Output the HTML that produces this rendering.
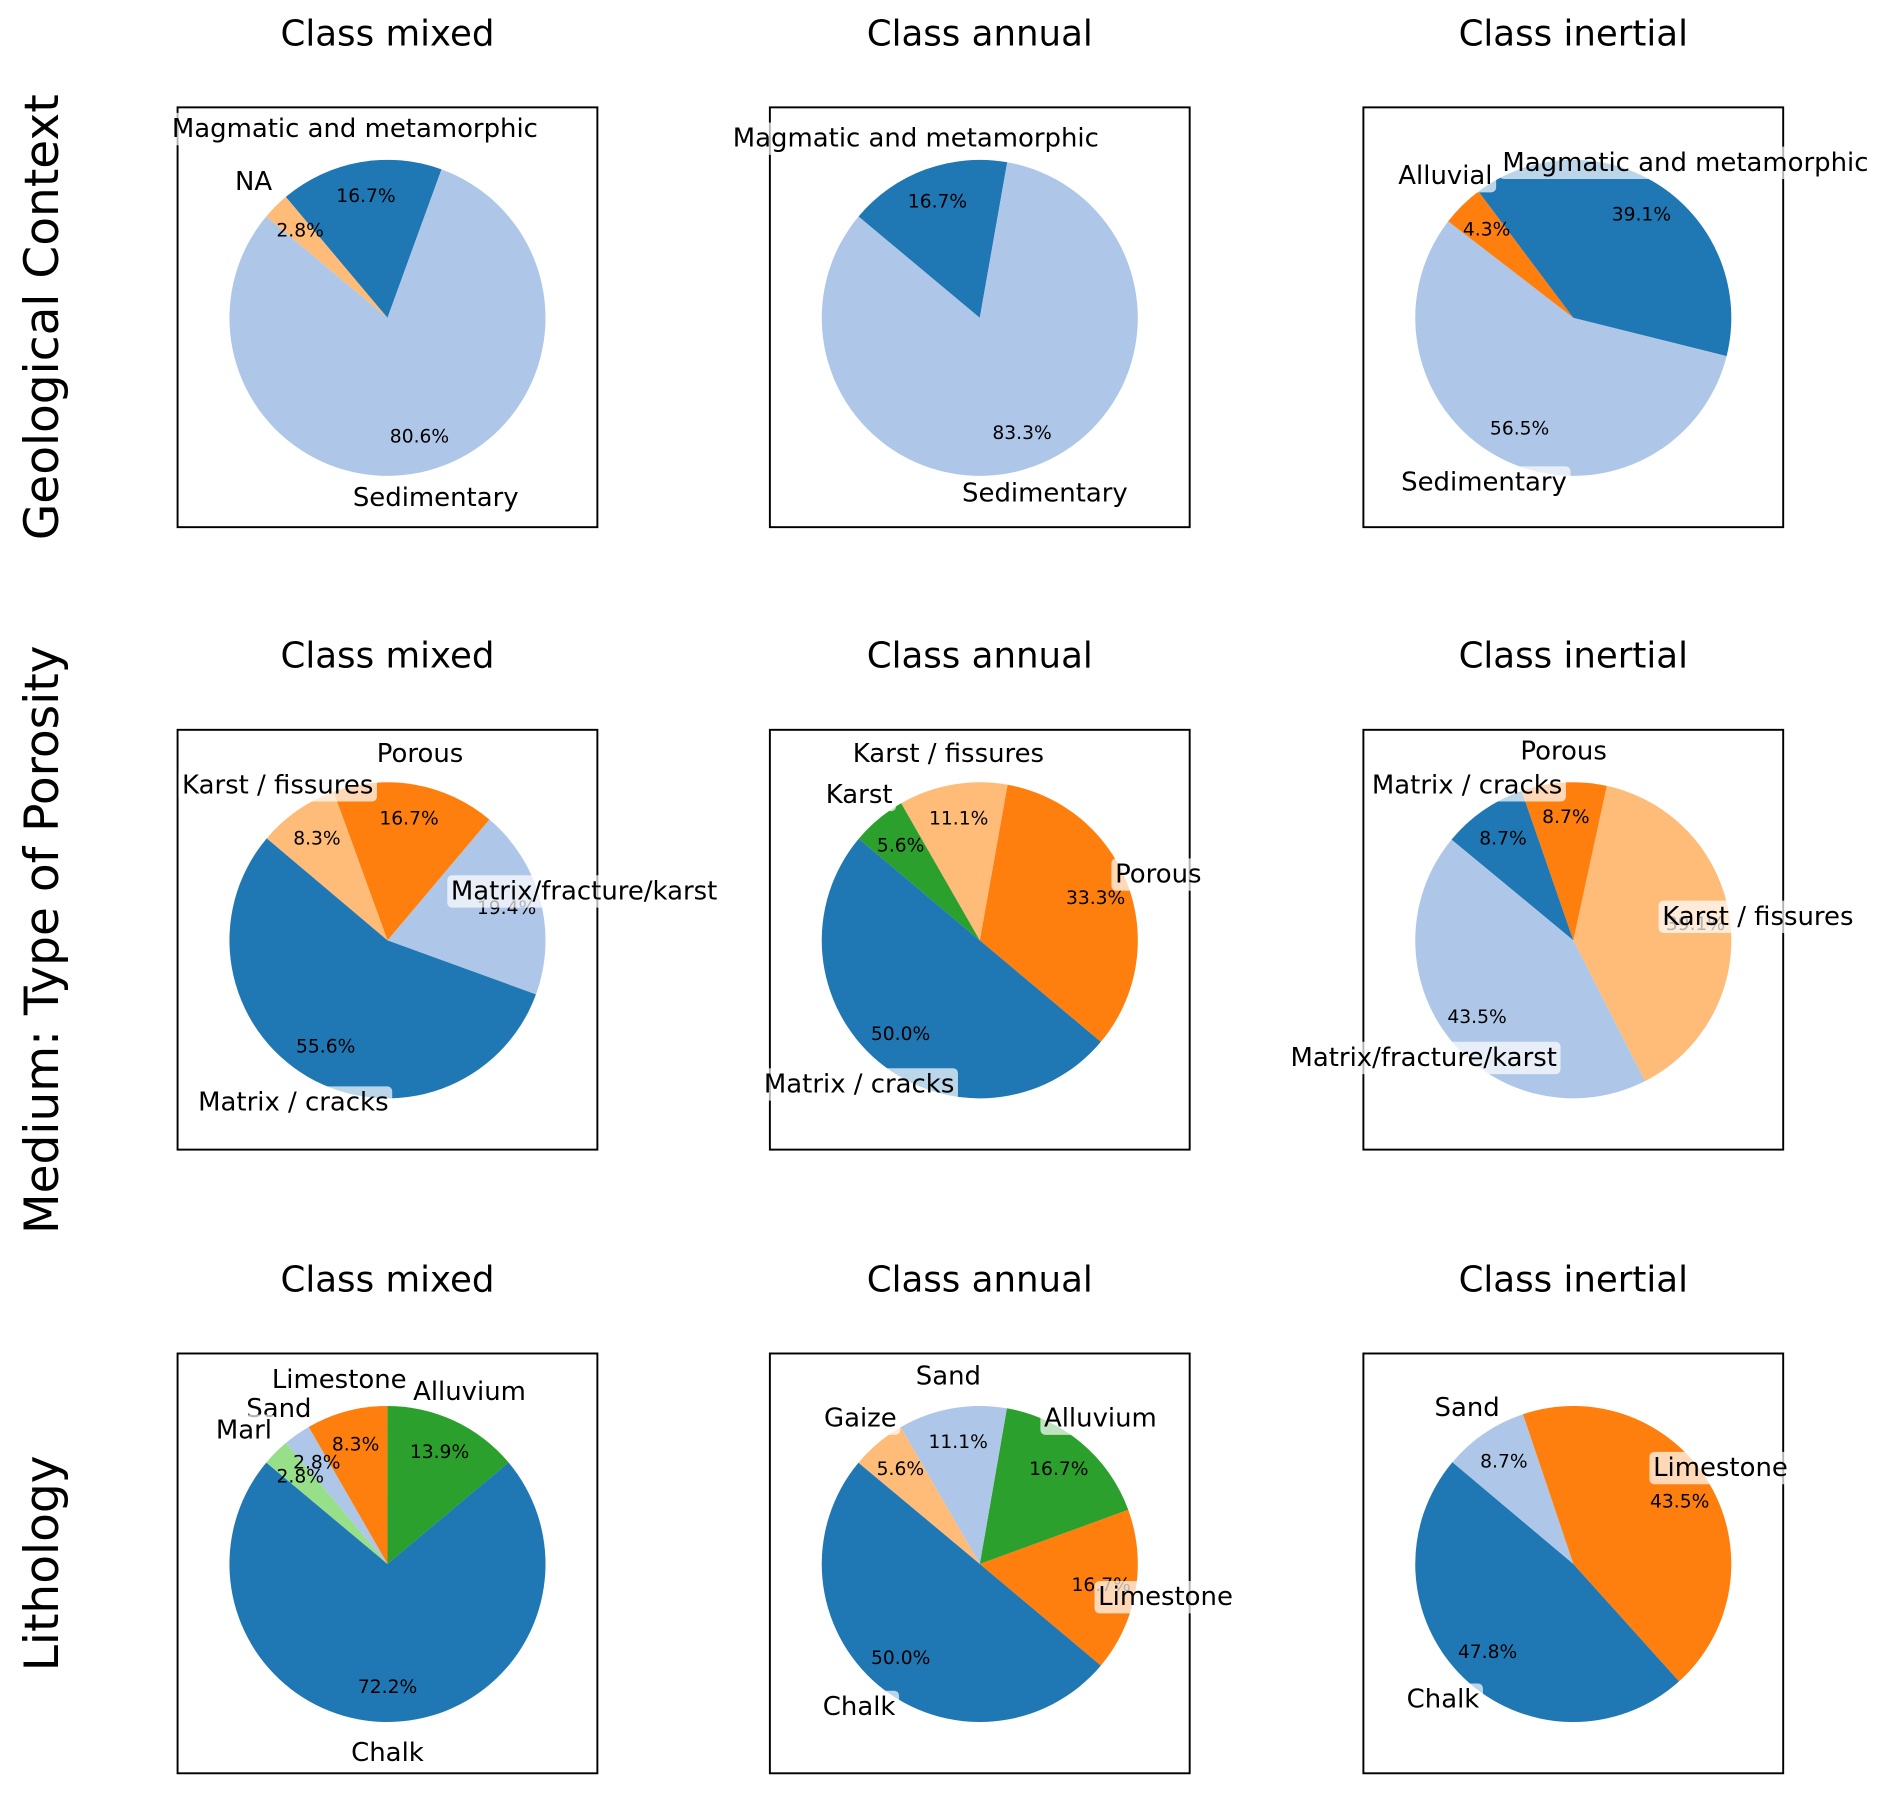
<!DOCTYPE html>
<html><head><meta charset="utf-8"><style>
html,body{margin:0;padding:0;background:#fff}
svg{display:block}
text{font-family:"DejaVu Sans","Liberation Sans",sans-serif;fill:#000}
</style></head><body>
<svg id="chart" width="1892" height="1795" viewBox="0 0 1568 1488" xmlns="http://www.w3.org/2000/svg"></svg>
<script>
// ---- data ----
const rowTitles = ["Geological Context", "Medium: Type of Porosity", "Lithology"];
const colTitles = ["Class mixed", "Class annual", "Class inertial"];
const C = {blue:"#1f77b4", lblue:"#aec7e8", orange:"#ff7f0e", lorange:"#ffbb78", green:"#2ca02c", lgreen:"#98df8a"};

const labels_r1c1 = ["Magmatic and metamorphic","NA","Sedimentary"];
const values_r1c1 = [16.7, 2.8, 80.6];
const labels_r1c2 = ["Magmatic and metamorphic","Sedimentary"];
const values_r1c2 = [16.7, 83.3];
const labels_r1c3 = ["Magmatic and metamorphic","Alluvial","Sedimentary"];
const values_r1c3 = [39.1, 4.3, 56.5];
const labels_r2c1 = ["Matrix/fracture/karst","Porous","Karst / fissures","Matrix / cracks"];
const values_r2c1 = [19.4, 16.7, 8.3, 55.6];
const labels_r2c2 = ["Porous","Karst / fissures","Karst","Matrix / cracks"];
const values_r2c2 = [33.3, 11.1, 5.6, 50.0];
const labels_r2c3 = ["Karst / fissures","Porous","Matrix / cracks","Matrix/fracture/karst"];
const values_r2c3 = [39.1, 8.7, 8.7, 43.5];
const labels_r3c1 = ["Alluvium","Limestone","Sand","Marl","Chalk"];
const values_r3c1 = [13.9, 8.3, 2.8, 2.8, 72.2];
const labels_r3c2 = ["Limestone","Alluvium","Sand","Gaize","Chalk"];
const values_r3c2 = [16.7, 16.7, 11.1, 5.6, 50.0];
const labels_r3c3 = ["Limestone","Sand","Chalk"];
const values_r3c3 = [43.5, 8.7, 47.8];

// ---- styling / layout (not data) ----
const colorOf = {"Magmatic and metamorphic":C.blue,"NA":C.lorange,"Sedimentary":C.lblue,"Alluvial":C.orange,
 "Matrix / cracks":C.blue,"Porous":C.orange,"Karst / fissures":C.lorange,"Matrix/fracture/karst":C.lblue,"Karst":C.green,
 "Chalk":C.blue,"Limestone":C.orange,"Alluvium":C.green,"Sand":C.lblue,"Marl":C.lgreen,"Gaize":C.lorange};
const pies = [
 [{l:labels_r1c1,v:values_r1c1,s:70,lp:[[294,107],[210,151],[361,413]]},
  {l:labels_r1c2,v:values_r1c2,s:80,lp:[[759,115],[866,409]]},
  {l:labels_r1c3,v:values_r1c3,s:-14,lp:[[1397,135],[1198,146],[1230,400]]}],
 [{l:labels_r2c1,v:values_r2c1,s:-20,lp:[[484,739],[348,625],[230,651],[243,914]]},
  {l:labels_r2c2,v:values_r2c2,s:-40,lp:[[960,725],[786,625],[712,659],[712,899]]},
  {l:labels_r2c3,v:values_r2c3,s:-63,lp:[[1457,760],[1296,623],[1216,651],[1180,877]]}],
 [{l:labels_r3c1,v:values_r3c1,s:40,lp:[[389,1154],[281,1144],[231,1168],[202,1186],[321,1453]]},
  {l:labels_r3c2,v:values_r3c2,s:-40,lp:[[966,1324],[912,1176],[786,1141],[713,1176],[712,1415]]},
  {l:labels_r3c3,v:values_r3c3,s:-48,lp:[[1426,1217],[1216,1167],[1196,1409]]}]
];
const boxX = [147, 638, 1130], boxY = [89, 605, 1122], boxW = 348, boxH = 348;
const R = 131;

const svg = document.getElementById('chart');
const NS = "http://www.w3.org/2000/svg";
function mk(tag, attrs, parent){ const e=document.createElementNS(NS,tag); for(const k in attrs) e.setAttribute(k,attrs[k]); (parent||svg).appendChild(e); return e; }
function pt(cx,cy,r,deg){ const a=deg*Math.PI/180; return [cx+r*Math.cos(a), cy-r*Math.sin(a)]; }

rowTitles.forEach((t,i)=>{
  const cy = boxY[i]+boxH/2;
  const e = mk('text',{x:35,y:cy,'font-size':39,'text-anchor':'middle','dominant-baseline':'central',transform:`rotate(-90 35 ${cy})`});
  e.textContent = t;
  
  
});

pies.forEach((row,ri)=>row.forEach((p,ci)=>{
  const g = mk('g',{});
  
  
  const bx=boxX[ci], by=boxY[ri];
  const tt = mk('text',{x:bx+boxW/2,y:by-61,'font-size':29.5,'text-anchor':'middle','dominant-baseline':'central'},g);
  tt.textContent = colTitles[ci];
  
  
  const fr = mk('rect',{x:bx,y:by,width:boxW,height:boxH,fill:'none',stroke:'#000','stroke-width':1.6},g);
  
  
  const cx=bx+boxW/2, cy=by+boxH/2+0.5;
  const total = p.v.reduce((a,b)=>a+b,0);
  let a0 = p.s;
  const mids=[];
  p.v.forEach((v,k)=>{
    const span = v/total*360, a1=a0+span;
    const [x0,y0]=pt(cx,cy,R,a0), [x1,y1]=pt(cx,cy,R,a1);
    const w = mk('path',{d:`M${cx},${cy} L${x0},${y0} A${R},${R} 0 ${span>180?1:0} 0 ${x1},${y1} Z`,fill:colorOf[p.l[k]]},g);
    
    
    mids.push((a0+a1)/2);
    a0=a1;
  });
  p.v.forEach((v,k)=>{
    const [x,y]=pt(cx,cy,R*0.78,mids[k]);
    const t = mk('text',{x:x,y:y,'font-size':15.5,'text-anchor':'middle','dominant-baseline':'central'},g);
    t.textContent = v.toFixed(1)+'%';
    
    
  });
  p.l.forEach((lab,k)=>{
    const [x,y]=p.lp[k];
    const t = mk('text',{x:x,y:y,'font-size':21.5,'text-anchor':'middle','dominant-baseline':'central'},g);
    t.textContent = lab;
    const bb = t.getBBox();
    const r = mk('rect',{x:bb.x-3,y:bb.y-1,width:bb.width+6,height:bb.height+2,rx:4,fill:'#fff','fill-opacity':0.7},g);
    
    
    g.appendChild(t);
    
    
  });
}));
</script>
</body></html>
